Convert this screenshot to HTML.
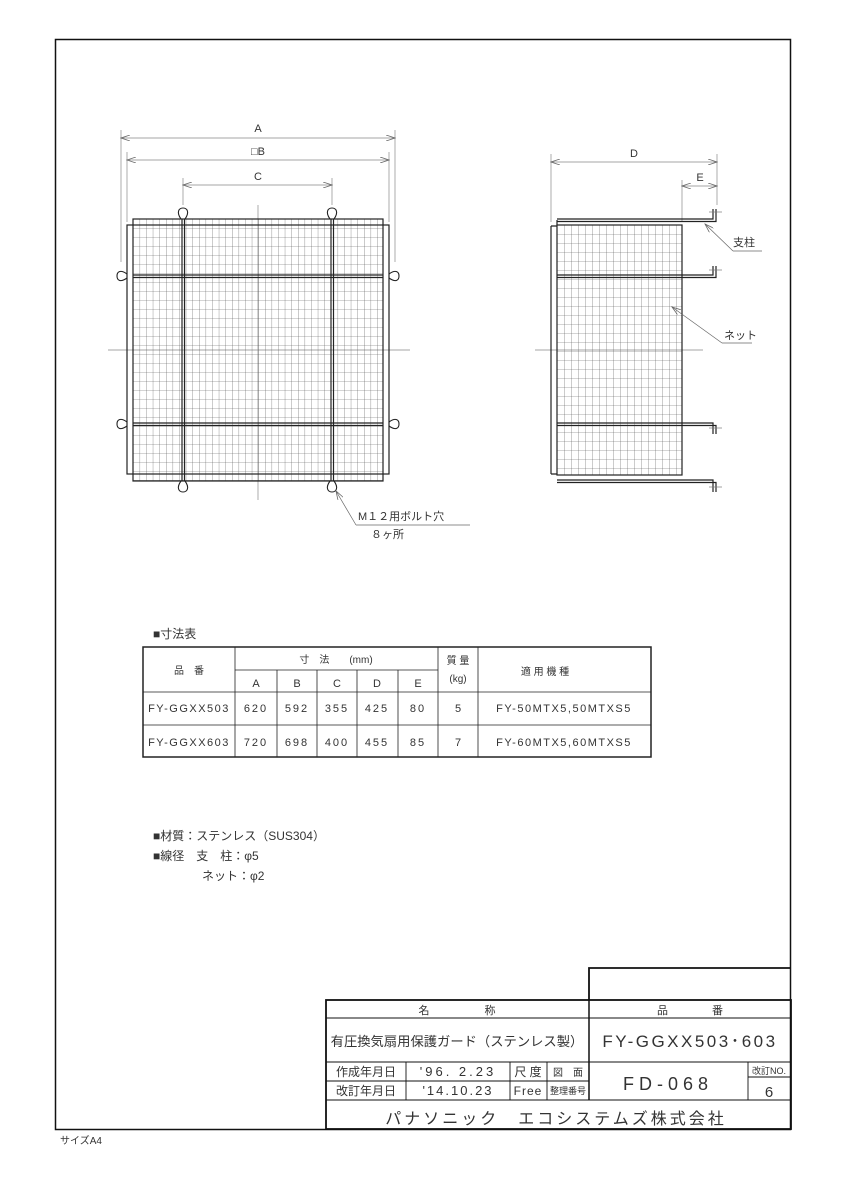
<!DOCTYPE html>
<html><head><meta charset="utf-8"><style>
body{margin:0;background:#fff}
svg{display:block}
text{font-family:"Liberation Sans","Noto Sans CJK JP",sans-serif;fill:#333}
</style></head><body>
<svg width="848" height="1200" viewBox="0 0 848 1200" xmlns="http://www.w3.org/2000/svg">
<defs>
<marker id="ar" markerWidth="10" markerHeight="6" refX="9" refY="3" orient="auto-start-reverse" markerUnits="userSpaceOnUse"><path d="M0,0 L9,3 L0,6" fill="none" stroke="#666" stroke-width="0.8"/></marker>
<pattern id="mesh" x="133" y="219" width="6.6" height="9" patternUnits="userSpaceOnUse"><path d="M0,0 V9 M0,0 H6.6" stroke="#555" stroke-width="0.6" fill="none"/></pattern>
<pattern id="mesh2" x="557" y="225" width="7" height="9" patternUnits="userSpaceOnUse"><path d="M0,0 V9 M0,0 H7" stroke="#555" stroke-width="0.6" fill="none"/></pattern>
</defs>
<rect x="55.5" y="39.5" width="735" height="1090" fill="none" stroke="#111" stroke-width="1.5"/>

<!-- front view dims -->
<g stroke="#888" stroke-width="0.7" fill="none">
<line x1="121" y1="130" x2="121" y2="262"/><line x1="395" y1="130" x2="395" y2="262"/>
<line x1="127" y1="152" x2="127" y2="222"/><line x1="389" y1="152" x2="389" y2="222"/>
<line x1="183" y1="178" x2="183" y2="205"/><line x1="332" y1="178" x2="332" y2="205"/>
<line x1="121" y1="138" x2="395" y2="138" marker-start="url(#ar)" marker-end="url(#ar)"/>
<line x1="127" y1="160" x2="389" y2="160" marker-start="url(#ar)" marker-end="url(#ar)"/>
<line x1="183" y1="185" x2="332" y2="185" marker-start="url(#ar)" marker-end="url(#ar)"/>
<line x1="258" y1="205" x2="258" y2="500"/><line x1="108" y1="350" x2="410" y2="350"/>
</g>
<text x="258" y="132" font-size="11" text-anchor="middle">A</text>
<text x="258" y="155" font-size="11" text-anchor="middle">□B</text>
<text x="258" y="180" font-size="11" text-anchor="middle">C</text>

<!-- front view grille -->
<rect x="133" y="219" width="250" height="262" fill="url(#mesh)"/>
<g fill="none" stroke="#222" stroke-width="1.2">
<rect x="133" y="219" width="250" height="262"/>
<rect x="127" y="225" width="262" height="249"/>
<line x1="182" y1="219" x2="182" y2="481"/><line x1="184.5" y1="219" x2="184.5" y2="481"/>
<line x1="331" y1="219" x2="331" y2="481"/><line x1="333.5" y1="219" x2="333.5" y2="481"/>
<line x1="133" y1="275" x2="383" y2="275"/><line x1="133" y1="277.5" x2="383" y2="277.5"/>
<line x1="133" y1="423" x2="383" y2="423"/><line x1="133" y1="425.5" x2="383" y2="425.5"/>
</g>
<g fill="none" stroke="#222" stroke-width="1.1">
<path d="M181,219 C176,212 179,208 183,208 C187,208 190,212 185,219"/>
<path d="M330,219 C325,212 328,208 332,208 C336,208 339,212 334,219"/>
<path d="M181,481 C176,488 179,492 183,492 C187,492 190,488 185,481"/>
<path d="M330,481 C325,488 328,492 332,492 C336,492 339,488 334,481"/>
<path d="M127,274 C120,269 117,272 117,276 C117,280 120,283 127,278"/>
<path d="M127,422 C120,417 117,420 117,424 C117,428 120,431 127,426"/>
<path d="M389,274 C396,269 399,272 399,276 C399,280 396,283 389,278"/>
<path d="M389,422 C396,417 399,420 399,424 C399,428 396,431 389,426"/>
</g>
<!-- bolt label -->
<g stroke="#666" stroke-width="0.7" fill="none">
<line x1="336" y1="491" x2="356" y2="525" marker-start="url(#ar)"/>
<line x1="356" y1="525" x2="470" y2="525"/>
</g>
<text x="358" y="520" font-size="11">M１２用ボルト穴</text>
<text x="371" y="538" font-size="11">８ヶ所</text>

<!-- side view -->
<g stroke="#888" stroke-width="0.7" fill="none">
<line x1="551" y1="154" x2="551" y2="222"/><line x1="717" y1="154" x2="717" y2="205"/>
<line x1="682" y1="180" x2="682" y2="222"/>
<line x1="551" y1="162" x2="717" y2="162" marker-start="url(#ar)" marker-end="url(#ar)"/>
<line x1="682" y1="186" x2="717" y2="186" marker-start="url(#ar)" marker-end="url(#ar)"/>
<line x1="535" y1="350" x2="703" y2="350"/>
</g>
<text x="634" y="157" font-size="11" text-anchor="middle">D</text>
<text x="700" y="181" font-size="11" text-anchor="middle">E</text>
<rect x="557" y="225" width="125" height="250" fill="url(#mesh2)"/>
<g fill="none" stroke="#222" stroke-width="1.2">
<rect x="557" y="225" width="125" height="250"/>
<path d="M557,225 V220 M551,226 V474 M551,474 H557 M551,226 H557"/>
<path d="M557,219 H713 V209 M557,221.5 H716 V209"/>
<path d="M557,275 H713 V266 M557,277.5 H716 V266"/>
<path d="M557,423 H713 V434 M557,425.5 H716 V434"/>
<path d="M557,480 H713 V492 M557,482.5 H716 V492"/>
</g>
<g stroke="#777" stroke-width="0.7">
<line x1="709" y1="212" x2="722" y2="212"/><line x1="709" y1="270" x2="722" y2="270"/>
<line x1="709" y1="428" x2="722" y2="428"/><line x1="709" y1="487" x2="722" y2="487"/>
</g>
<g stroke="#666" stroke-width="0.7" fill="none">
<line x1="705" y1="224" x2="733" y2="251" marker-start="url(#ar)"/><line x1="733" y1="251" x2="762" y2="251"/>
<line x1="672" y1="307" x2="722" y2="343" marker-start="url(#ar)"/><line x1="722" y1="343" x2="752" y2="343"/>
</g>
<text x="733" y="246" font-size="11">支柱</text>
<text x="724" y="339" font-size="11">ネット</text>

<!-- table -->
<text x="153" y="638" font-size="12">■寸法表</text>
<g stroke="#222" fill="none">
<rect x="143" y="647" width="508" height="110" stroke-width="1.5"/>
<g stroke-width="0.8">
<line x1="235" y1="647" x2="235" y2="757"/>
<line x1="277" y1="670" x2="277" y2="757"/><line x1="317" y1="670" x2="317" y2="757"/>
<line x1="357" y1="670" x2="357" y2="757"/><line x1="398" y1="670" x2="398" y2="757"/>
<line x1="438" y1="647" x2="438" y2="757"/><line x1="478" y1="647" x2="478" y2="757"/>
<line x1="235" y1="670" x2="438" y2="670"/>
<line x1="143" y1="692" x2="651" y2="692"/><line x1="143" y1="725" x2="651" y2="725"/>
</g></g>
<g font-size="11" text-anchor="middle">
<text x="189" y="674" font-size="10">品　番</text>
<text x="336" y="663" font-size="10">寸　法　　(mm)</text>
<text x="458" y="664" font-size="10">質 量</text><text x="458" y="682" font-size="10">(kg)</text>
<text x="545" y="675" font-size="10">適 用 機 種</text>
<text x="256" y="687">A</text><text x="297" y="687">B</text><text x="337" y="687">C</text><text x="377" y="687">D</text><text x="418" y="687">E</text>
<text x="189" y="712" letter-spacing="1.5">FY-GGXX503</text>
<text x="256" y="712" letter-spacing="2">620</text><text x="297" y="712" letter-spacing="2">592</text><text x="337" y="712" letter-spacing="2">355</text><text x="377" y="712" letter-spacing="2">425</text><text x="418" y="712" letter-spacing="2">80</text><text x="458" y="712">5</text>
<text x="564" y="712" letter-spacing="1.5">FY-50MTX5,50MTXS5</text>
<text x="189" y="746" letter-spacing="1.5">FY-GGXX603</text>
<text x="256" y="746" letter-spacing="2">720</text><text x="297" y="746" letter-spacing="2">698</text><text x="337" y="746" letter-spacing="2">400</text><text x="377" y="746" letter-spacing="2">455</text><text x="418" y="746" letter-spacing="2">85</text><text x="458" y="746">7</text>
<text x="564" y="746" letter-spacing="1.5">FY-60MTX5,60MTXS5</text>
</g>

<!-- notes -->
<g font-size="12">
<text x="153" y="840">■材質：ステンレス（SUS304）</text>
<text x="153" y="860">■線径　支　柱：φ5</text>
<text x="202" y="880">ネット：φ2</text>
</g>

<!-- title block -->
<g stroke="#111" fill="none">
<path d="M589,1000 V968 H791" stroke-width="1.8"/>
<rect x="326" y="1000" width="465" height="129" stroke-width="1.8"/>
<line x1="589" y1="1000" x2="589" y2="1100" stroke-width="1.5"/>
<g stroke-width="0.9">
<line x1="326" y1="1018" x2="791" y2="1018"/>
<line x1="326" y1="1062" x2="791" y2="1062"/>
<line x1="326" y1="1081" x2="589" y2="1081"/>
<line x1="748" y1="1077" x2="791" y2="1077"/>
<line x1="326" y1="1100" x2="791" y2="1100"/>
<line x1="406" y1="1062" x2="406" y2="1100"/><line x1="510" y1="1062" x2="510" y2="1100"/>
<line x1="547" y1="1062" x2="547" y2="1100"/><line x1="748" y1="1062" x2="748" y2="1100"/>
</g></g>
<g text-anchor="middle">
<text x="457" y="1014" font-size="11">名　　　　　称</text>
<text x="690" y="1014" font-size="11">品　　　　番</text>
<text x="457" y="1046" font-size="13.3">有圧換気扇用保護ガード（ステンレス製）</text>
<text x="690" y="1047" font-size="17" letter-spacing="2.5">FY-GGXX503･603</text>
<text x="366" y="1076" font-size="12">作成年月日</text>
<text x="366" y="1095" font-size="12">改訂年月日</text>
<text x="458" y="1076" font-size="13" letter-spacing="3">'96. 2.23</text>
<text x="458" y="1095" font-size="13" letter-spacing="2">'14.10.23</text>
<text x="528" y="1076" font-size="12">尺 度</text>
<text x="528" y="1095" font-size="12" letter-spacing="1">Free</text>
<text x="568" y="1076" font-size="10">図　面</text>
<text x="568" y="1094" font-size="9">整理番号</text>
<text x="668" y="1090" font-size="18" letter-spacing="5">FD-068</text>
<text x="769" y="1074" font-size="9">改訂NO.</text>
<text x="769" y="1097" font-size="15">6</text>
<text x="556" y="1124" font-size="16" letter-spacing="3">パナソニック　エコシステムズ株式会社</text>
</g>
<text x="60" y="1144" font-size="10">サイズA4</text>
</svg>
</body></html>
